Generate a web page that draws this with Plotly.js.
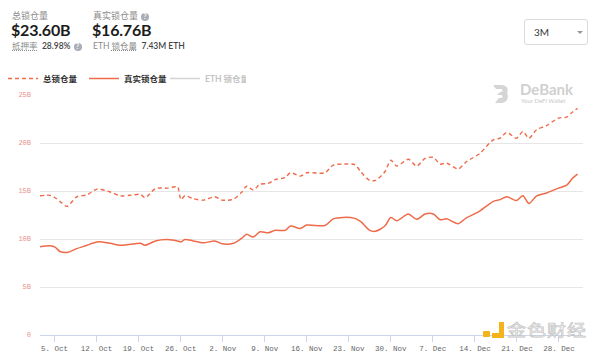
<!DOCTYPE html>
<html>
<head>
<meta charset="utf-8">
<script src="https://cdn.plot.ly/plotly-3.0.1.min.js"></script>
<style>
  html,body{margin:0;padding:0;background:#fff;}
  #wrap{position:relative;width:600px;height:354px;overflow:hidden;font-family:Lato,"Noto Sans CJK SC",sans-serif;}
  #chart{position:absolute;left:0;top:0;width:600px;height:354px;}
  .abs{position:absolute;white-space:nowrap;}
  .lbl{font-size:9px;line-height:10px;color:#8a8a8a;}
  .big{font-size:16px;line-height:16px;font-weight:700;color:#1c1c1c;letter-spacing:-0.2px;}
  .sub{font-size:8.5px;line-height:10px;color:#8a8a8a;}
  .sub b{color:#444;font-weight:600;}
  .q{display:inline-block;width:8px;height:8px;border-radius:50%;background:#a9adb5;color:#fff;font-size:6.5px;line-height:8px;text-align:center;font-weight:700;vertical-align:middle;margin-left:3px;}
  .dd{left:524px;top:19px;width:64px;height:26px;border:1px solid #dcdcdc;border-radius:3px;box-sizing:border-box;}
</style>
</head>
<body>
<div id="wrap">
  <div id="chart"></div>
  <div class="abs lbl" style="left:12px;top:11px;">总锁仓量</div>
  <div class="abs big" style="left:11px;top:22px;">$23.60B</div>
  <div class="abs sub" style="left:12px;top:41px;"><span style="text-decoration:underline dotted;">抵押率</span>&nbsp; <b>28.98%</b><span class="q">?</span></div>
  <div class="abs lbl" style="left:93px;top:11px;">真实锁仓量<span class="q">?</span></div>
  <div class="abs big" style="left:92px;top:22px;">$16.76B</div>
  <div class="abs sub" style="left:93px;top:41px;">ETH <span style="text-decoration:underline dotted;">锁仓量</span>&nbsp; <b>7.43M ETH</b></div>
  <div class="abs dd"><span class="abs" style="left:9px;top:6px;font-size:10px;color:#333;">3M</span><span class="abs" style="left:52px;top:11px;width:0;height:0;border-left:3px solid transparent;border-right:3px solid transparent;border-top:3px solid #999;"></span></div>
  <svg class="abs" style="left:492px;top:84px;" width="18" height="20" viewBox="0 0 18 20"><path d="M1 1 H9 C15 1 17 5 15 9 C17 12 16 19 9 19 H3 L7 14 H9 C11 14 11 11 9 11 H5 L8 8 H9 C11 8 11 5 9 5 H4 Z" fill="#d5d5d5"/></svg>
  <div class="abs" style="left:520px;top:83px;font-size:15px;line-height:13px;font-weight:700;color:#d0d0d0;">DeBank</div>
  <div class="abs" style="left:521px;top:97px;font-size:6px;line-height:7px;color:#c8c8c8;">Your DeFi Wallet</div>
  <div class="abs" style="left:483px;top:331px;width:7px;height:6px;background:#f5b31b;border-radius:1px;"></div>
  <div class="abs" style="left:492px;top:322px;width:12px;height:16px;border-right:5px solid #f5b31b;border-bottom:5px solid #f5b31b;box-sizing:border-box;"></div>
  <div class="abs" style="left:507px;top:322px;font-size:19px;line-height:17px;height:17px;transform:scaleY(0.85);transform-origin:top left;color:rgba(255,255,255,0.5);-webkit-text-stroke:0.8px #c4c4c4;font-family:'Noto Sans CJK SC';letter-spacing:1px;">金色财经</div>
</div>
<script>
// sample dates (readings from the reference picture)
var dates = [
 "2020-10-02 14:00","2020-10-04 07:00","2020-10-05 02:00","2020-10-05 22:00","2020-10-07 02:00",
 "2020-10-08 17:00","2020-10-10 10:00","2020-10-12 02:00","2020-10-14 07:00","2020-10-15 22:00",
 "2020-10-17 14:00","2020-10-19 07:00","2020-10-20 02:00","2020-10-21 19:00","2020-10-23 17:00",
 "2020-10-25 02:00","2020-10-25 12:00","2020-10-26 02:00","2020-10-26 17:00","2020-10-28 02:00",
 "2020-10-29 19:00","2020-10-31 17:00","2020-11-01 22:00","2020-11-03 19:00","2020-11-05 05:00",
 "2020-11-06 00:00","2020-11-07 02:00","2020-11-08 05:00","2020-11-09 14:00","2020-11-10 19:00",
 "2020-11-12 10:00","2020-11-13 07:00","2020-11-14 22:00","2020-11-16 00:00","2020-11-19 00:00",
 "2020-11-20 10:00","2020-11-22 02:00","2020-11-24 00:00","2020-11-25 00:00","2020-11-26 12:00",
 "2020-11-27 10:00","2020-11-29 00:00","2020-11-30 00:00","2020-12-01 00:00","2020-12-02 22:00",
 "2020-12-04 07:00","2020-12-05 17:00","2020-12-07 02:00","2020-12-08 05:00","2020-12-09 07:00",
 "2020-12-11 05:00","2020-12-12 14:00","2020-12-14 19:00","2020-12-17 00:00","2020-12-18 05:00",
 "2020-12-19 07:00","2020-12-20 22:00","2020-12-22 00:00","2020-12-23 00:00","2020-12-24 07:00",
 "2020-12-25 22:00","2020-12-27 22:00","2020-12-29 07:00","2020-12-30 05:00","2020-12-31 02:00"
];
// 总锁仓量 (billions USD)
var totalLocked = [
 14.5,14.55,14.3,13.9,13.4, 14.4,14.6,15.2,14.9,14.5,
 14.55,14.65,14.3,15.25,15.3, 15.45,15.45,14.1,14.5,14.2,
 14.05,14.4,14.05,14.15,14.9, 15.5,15.1,15.7,15.8,16.2,
 16.4,16.9,16.55,16.9,16.9, 17.7,17.8,17.75,17.0,16.1,
 16.1,17.0,18.2,17.6,18.3, 17.6,18.4,18.5,17.8,17.9,
 17.3,18.05,18.9,20.3,20.5, 21.1,20.5,21.2,20.5,21.4,
 21.8,22.6,22.7,23.2,23.6
];
// 真实锁仓量 (billions USD)
var realLocked = [
 9.2,9.3,9.15,8.7,8.6, 9.0,9.35,9.7,9.55,9.35,
 9.45,9.55,9.35,9.8,9.95, 9.85,9.8,9.7,9.95,9.8,
 9.6,9.8,9.5,9.55,10.1, 10.5,10.2,10.75,10.65,10.9,
 10.9,11.35,11.1,11.45,11.4, 12.1,12.25,12.15,11.8,10.9,
 10.8,11.35,12.25,11.9,12.6, 12.05,12.6,12.6,12.0,12.1,
 11.6,12.2,12.9,13.9,14.1, 14.4,14.0,14.5,13.7,14.5,
 14.8,15.3,15.6,16.3,16.76
];
// ETH 锁仓量 series is hidden in the reference (no values shown)
var ethDates = [dates[0]];
var ethLocked = [null];
var seriesNames = ["总锁仓量", "真实锁仓量", "ETH 锁仓量"];
var yTickVals = [0, 5, 10, 15, 20, 25];
var yTickText = ["0", "5B", "10B", "15B", "20B", "25B"];
var xTickVals = ["2020-10-05","2020-10-12","2020-10-19","2020-10-26","2020-11-02","2020-11-09","2020-11-16","2020-11-23","2020-11-30","2020-12-07","2020-12-14","2020-12-21","2020-12-28"];
var xTickText = ["5. Oct","12. Oct","19. Oct","26. Oct","2. Nov","9. Nov","16. Nov","23. Nov","30. Nov","7. Dec","14. Dec","21. Dec","28. Dec"];

var lineColor = "#ee6a48";
var traces = [
  {x: dates, y: totalLocked, name: seriesNames[0], type: "scatter", mode: "lines",
   line: {color: lineColor, width: 1.4, dash: "4px,3px", shape: "spline", smoothing: 0.8}, hoverinfo: "skip"},
  {x: dates, y: realLocked, name: seriesNames[1], type: "scatter", mode: "lines",
   line: {color: lineColor, width: 1.5, shape: "spline", smoothing: 0.8}, hoverinfo: "skip"},
  {x: ethDates, y: ethLocked, name: '<span style="color:#888">' + seriesNames[2] + '</span>', type: "scatter", mode: "lines",
   line: {color: "#aaaaaa", width: 1.5}, visible: "legendonly", showlegend: true}
];
var layout = {
  width: 600, height: 354,
  margin: {l: 40, r: 17, t: 95, b: 19},
  paper_bgcolor: "#fff", plot_bgcolor: "#fff",
  showlegend: true,
  legend: {orientation: "h", xref: "container", yref: "container", x: 0.005, y: 1 - 64/354,
           xanchor: "left", yanchor: "top", font: {size: 8.5, color: "#333", family: "Lato, 'Noto Sans CJK SC'", weight: "bold"},
           itemwidth: 30, entrywidth: 36, bgcolor: "rgba(0,0,0,0)", tracegroupgap: 0},
  xaxis: {type: "date", range: ["2020-10-02 14:00", "2021-01-01 00:00"],
          tickvals: xTickVals, ticktext: xTickText, ticks: "outside", ticklen: 6, tickcolor: "#ccd6eb",
          showline: true, linecolor: "#ccd6eb", linewidth: 1, showgrid: false, zeroline: false,
          tickfont: {family: "'Liberation Mono', 'DejaVu Sans Mono', monospace", size: 7.5, color: "#666"}},
  yaxis: {range: [0, 25], tickvals: yTickVals, ticktext: yTickText, showgrid: true, gridcolor: "#e6e6e6",
          zeroline: false, showline: false, ticks: "", ticklabelstandoff: 8,
          tickfont: {family: "'Liberation Mono', 'DejaVu Sans Mono', monospace", size: 7, color: "#e8928a"}},
  font: {family: "Lato, 'Noto Sans CJK SC'"}
};
Plotly.newPlot("chart", traces, layout, {displayModeBar: false, staticPlot: true});
</script>
</body>
</html>
